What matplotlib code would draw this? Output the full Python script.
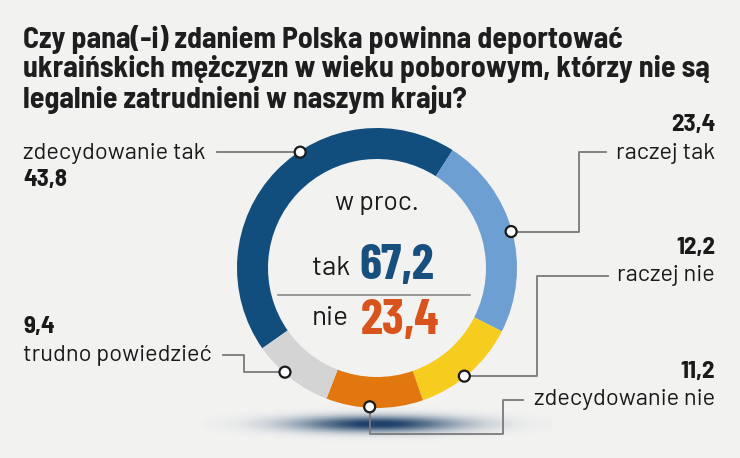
import numpy as np
import matplotlib.pyplot as plt
from matplotlib.patches import Circle

# survey answers, in percent
categories = ['zdecydowanie tak', 'raczej tak', 'raczej nie', 'zdecydowanie nie', 'trudno powiedzieć']
values = [43.8, 23.4, 12.2, 11.2, 9.4]
value_labels = ['43,8', '23,4', '12,2', '11,2', '9,4']
colors = ['#114d7d', '#6e9fd3', '#f6cd1e', '#e2770f', '#d4d4d4']
total_yes = '67,2'
total_no = '23,4'

title = ('Czy pana(-i) zdaniem Polska powinna deportować\n'
         'ukraińskich mężczyzn w wieku poborowym, którzy nie są\n'
         'legalnie zatrudnieni w naszym kraju?')

W, H = 740, 458
BG = '#f2f2f1'
CX, CY = 377, 268          # donut centre (pixels from top)
R_OUT, WIDTH = 140, 31
LINE = '#7a7a7a'
REG = ['Barlow', 'Roboto', 'DejaVu Sans']
SEMI = ['Barlow Semi Condensed', 'Roboto', 'DejaVu Sans']
COND = ['Barlow Condensed', 'Roboto', 'DejaVu Sans']


def y(p):
    return H - p


fig = plt.figure(figsize=(W / 100, H / 100), dpi=100, facecolor=BG)
ax = fig.add_axes([0, 0, 1, 1])
ax.set_facecolor(BG)

# soft shadow under the ring
gx = np.linspace(-1, 1, 400)
gy = np.linspace(-1, 1, 80)
GX, GY = np.meshgrid(gx, gy)
alpha = np.minimum(np.exp(-(GX ** 2) * 4.5 - (GY ** 2) * 9) * 1.05, 1)
shadow = np.zeros((80, 400, 4))
shadow[..., 0] = 0.12
shadow[..., 1] = 0.26
shadow[..., 2] = 0.41
shadow[..., 3] = alpha
ax.imshow(shadow, extent=(CX - 175, CX + 175, y(448), y(400)), zorder=0,
          interpolation='bilinear', aspect='auto')

start = 215
wedges, _ = ax.pie(values, colors=colors, startangle=start, counterclock=False,
                   radius=R_OUT, center=(CX, y(CY)), frame=True,
                   wedgeprops=dict(width=WIDTH, linewidth=0))
ax.set_xlim(0, W)
ax.set_ylim(0, H)
ax.set_aspect('equal')
ax.axis('off')

# where on each wedge the leader starts (fraction along the wedge)
marker_frac = [0.58, 0.5, 0.55, 0.55, 0.6]
R_MARK = R_OUT - 1
marks = []
for w, f in zip(wedges, marker_frac):
    a = np.deg2rad(w.theta2 - f * (w.theta2 - w.theta1))
    mx = CX + R_MARK * np.cos(a)
    my = CY - R_MARK * np.sin(a)
    marks.append((mx, my))

lw = 1.3
# zdecydowanie tak
mx, my = marks[0]
ax.plot([217, mx], [y(my), y(my)], color=LINE, lw=lw, zorder=3)
# raczej tak
mx, my = marks[1]
ax.plot([mx, 579, 579, 606], [y(my), y(my), y(152), y(152)], color=LINE, lw=lw, zorder=3)
# raczej nie
mx, my = marks[2]
ax.plot([mx, 537, 537, 608], [y(my), y(my), y(276), y(276)], color=LINE, lw=lw, zorder=3)
# zdecydowanie nie
mx, my = marks[3]
ax.plot([mx, mx, 503, 503, 523], [y(my), y(434), y(434), y(400), y(400)], color=LINE, lw=lw, zorder=3)
# trudno powiedziec
mx, my = marks[4]
ax.plot([mx, 244, 244, 223], [y(my), y(my), y(355), y(355)], color=LINE, lw=lw, zorder=3)

for mx, my in marks:
    ax.add_patch(Circle((mx, y(my)), 5.5, facecolor='white', edgecolor='#1a1a1a', lw=1.6, zorder=5))

# labels
lab = dict(fontsize=17, family=REG, color='#1a1a1a', va='center')
val = dict(fontsize=18, family=SEMI, weight='bold', color='#1a1a1a', va='center')
ax.text(23, y(153), categories[0], ha='left', **lab)
ax.text(23, y(180), value_labels[0], ha='left', **val)
ax.text(715, y(153), categories[1], ha='right', **lab)
ax.text(715, y(125), value_labels[1], ha='right', **val)
ax.text(715, y(276), categories[2], ha='right', **lab)
ax.text(715, y(248), value_labels[2], ha='right', **val)
ax.text(715, y(400), categories[3], ha='right', **lab)
ax.text(715, y(372), value_labels[3], ha='right', **val)
ax.text(23, y(355), categories[4], ha='left', **lab)
ax.text(23, y(327), value_labels[4], ha='left', **val)

# centre
ax.text(CX, y(203), 'w proc.', ha='center', va='center', fontsize=19, family=REG, color='#1a1a1a')
ax.text(350, y(268), 'tak', ha='right', va='center', fontsize=20, family=REG, color='#1a1a1a')
ax.text(359, y(266), total_yes, ha='left', va='center', fontsize=36, family=COND,
        weight='bold', color='#17507f')
ax.plot([278, 470], [y(295), y(295)], color='#8a8a8a', lw=1.2)
ax.text(349, y(318), 'nie', ha='right', va='center', fontsize=20, family=REG, color='#1a1a1a')
ax.text(361, y(321), total_no, ha='left', va='center', fontsize=36, family=COND,
        weight='bold', color='#d9531c')

ax.text(23, y(25), title, ha='left', va='top', fontsize=21.5, family=SEMI, weight='bold',
        color='#1e1e1e', linespacing=1.06)

fig.savefig('out.png', dpi=100, facecolor=BG)
